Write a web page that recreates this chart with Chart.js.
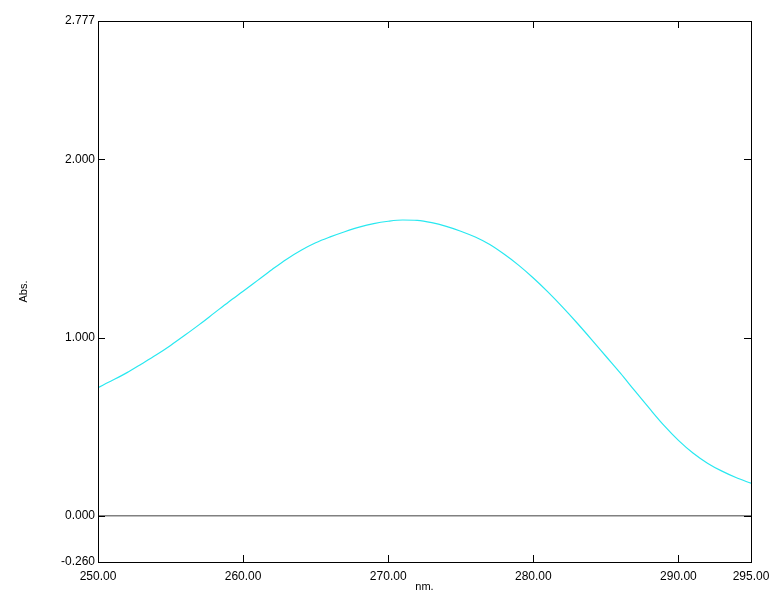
<!DOCTYPE html>
<html>
<head>
    <meta charset="UTF-8">
    <title>Abs. spectrum</title>
    <style type="text/css">
        body {
            background-color: white;
            margin: 0;
            padding: 0;
        }
        #chartBox {
            width: 783px;
            height: 607px;
        }
    </style>
    <script src="https://cdn.jsdelivr.net/npm/chart.js@4.4.0/dist/chart.umd.min.js"></script>
    <script type="text/javascript">
    // wavelength (nm) and absorbance
    var wavelengths = [250, 251, 252, 253, 254, 255, 256, 257, 258, 259,
                       260, 261, 262, 263, 264, 265, 266, 267, 268, 269,
                       270, 271, 272, 273, 274, 275, 276, 277, 278, 279,
                       280, 281, 282, 283, 284, 285, 286, 287, 288, 289,
                       290, 291, 292, 293, 294, 295];
    var absValues = [0.719, 0.76, 0.803, 0.852, 0.902, 0.956, 1.014, 1.074, 1.137, 1.20,
                     1.26, 1.321, 1.382, 1.44, 1.49, 1.532, 1.565, 1.594, 1.62, 1.64,
                     1.653, 1.66, 1.658, 1.645, 1.624, 1.597, 1.564, 1.522, 1.467, 1.405,
                     1.334, 1.256, 1.172, 1.083, 0.99, 0.895, 0.80, 0.70, 0.602, 0.507,
                     0.423, 0.352, 0.295, 0.25, 0.213, 0.182];
    var baselineX = [250, 295];
    var baselineY = [0, 0];

    var xTicks = [250, 260, 270, 280, 290, 295];
    var yTicks = [-0.26, 0, 1, 2, 2.777];

    var tickFont = { family: "'Liberation Sans', Arial, sans-serif", size: 12 };

    // frame + inward tick marks, like the instrument printout
    var framePlugin = {
        id: 'frame',
        afterDraw: function (chart) {
            var ctx = chart.ctx;
            var a = chart.chartArea;
            var xs = chart.scales.x, ys = chart.scales.y;
            ctx.save();
            ctx.strokeStyle = '#000';
            ctx.lineWidth = 1;
            ctx.strokeRect(Math.round(a.left) + 0.5, Math.round(a.top) + 0.5,
                           Math.round(a.right - a.left), Math.round(a.bottom - a.top));
            ctx.beginPath();
            xTicks.forEach(function (v) {
                if (v === xs.min || v === xs.max) return;
                var px = Math.round(xs.getPixelForValue(v)) + 0.5;
                ctx.moveTo(px, a.bottom); ctx.lineTo(px, a.bottom - 7);
                ctx.moveTo(px, a.top); ctx.lineTo(px, a.top + 7);
            });
            yTicks.forEach(function (v) {
                if (v === ys.min || v === ys.max) return;
                var py = Math.round(ys.getPixelForValue(v)) + 0.5;
                ctx.moveTo(a.left, py); ctx.lineTo(a.left + 7, py);
                ctx.moveTo(a.right, py); ctx.lineTo(a.right - 7, py);
            });
            ctx.stroke();
            ctx.restore();
        }
    };

    function drawSpectrum() {
        var ctx = document.getElementById('specChart').getContext('2d');
        var specPoints = wavelengths.map(function (w, i) { return { x: w, y: absValues[i] }; });
        var basePoints = baselineX.map(function (w, i) { return { x: w, y: baselineY[i] }; });

        new Chart(ctx, {
            type: 'line',
            data: {
                datasets: [{
                    label: 'baseline',
                    data: basePoints,
                    borderColor: 'rgb(128,128,128)',
                    borderWidth: 1.5,
                    pointRadius: 0,
                    fill: false
                }, {
                    label: 'Abs',
                    data: specPoints,
                    borderColor: 'rgb(40,232,240)',
                    borderWidth: 1.2,
                    pointRadius: 0,
                    tension: 0.4,
                    cubicInterpolationMode: 'monotone',
                    fill: false
                }]
            },
            options: {
                responsive: false,
                animation: false,
                layout: { padding: { left: 0, right: 32, top: 21, bottom: 0 } },
                plugins: {
                    legend: { display: false },
                    tooltip: { enabled: false }
                },
                scales: {
                    x: {
                        type: 'linear',
                        min: 250,
                        max: 295,
                        afterBuildTicks: function (scale) {
                            scale.ticks = xTicks.map(function (v) { return { value: v }; });
                        },
                        afterFit: function (scale) { scale.height = 45; },
                        grid: { display: false, drawTicks: false },
                        border: { display: false },
                        ticks: {
                            color: '#000',
                            font: tickFont,
                            padding: 7,
                            maxRotation: 0,
                            autoSkip: false,
                            callback: function (v) { return Number(v).toFixed(2); }
                        },
                        title: {
                            display: true,
                            text: 'nm.',
                            color: '#000',
                            font: { family: "'Liberation Sans', Arial, sans-serif", size: 11 },
                            padding: { top: 0, bottom: 13 }
                        }
                    },
                    y: {
                        type: 'linear',
                        min: -0.26,
                        max: 2.777,
                        afterBuildTicks: function (scale) {
                            scale.ticks = yTicks.map(function (v) { return { value: v }; });
                        },
                        afterFit: function (scale) { scale.width = 98; },
                        grid: { display: false, drawTicks: false },
                        border: { display: false },
                        ticks: {
                            color: '#000',
                            font: tickFont,
                            padding: 3,
                            autoSkip: false,
                            callback: function (v) { return Number(v).toFixed(3); }
                        },
                        title: {
                            display: true,
                            text: 'Abs.',
                            color: '#000',
                            font: { family: "'Liberation Sans', Arial, sans-serif", size: 11 },
                            padding: { top: 17, bottom: 0 }
                        }
                    }
                }
            },
            plugins: [framePlugin]
        });
    }

    document.addEventListener("DOMContentLoaded", function () {
        drawSpectrum();
    });
    </script>
</head>
<body>
    <div id="chartBox">
        <canvas id="specChart" width="783" height="607"></canvas>
    </div>
</body>
</html>
